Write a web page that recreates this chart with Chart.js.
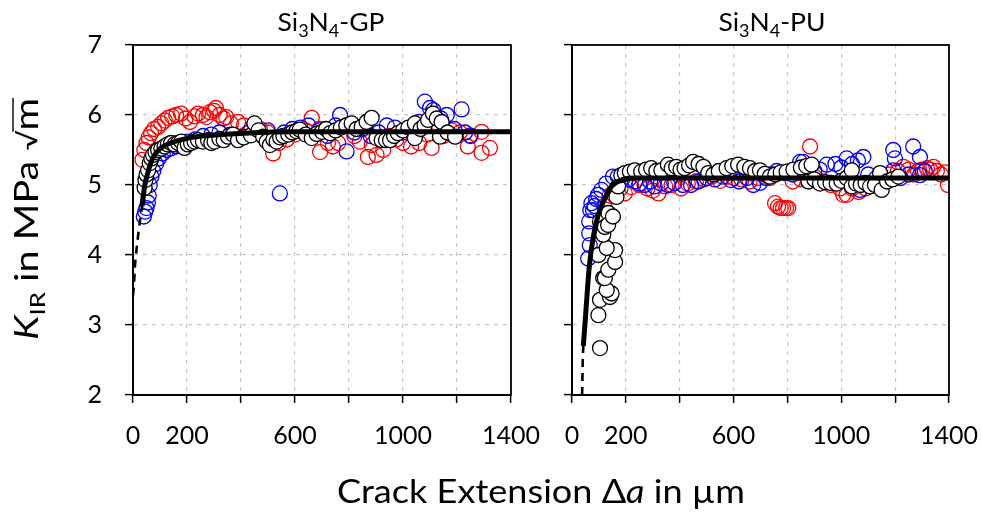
<!DOCTYPE html>
<html><head><meta charset="utf-8">
<script src="https://cdn.jsdelivr.net/npm/chart.js@4/dist/chart.umd.min.js"></script>
<style>
html,body{margin:0;padding:0;background:#fff;}
#wrap{position:relative;width:982px;height:513px;background:#fff;}
canvas{position:absolute;left:0;top:0;}
</style></head><body>
<div id="wrap"><canvas id="c1" width="982" height="513"></canvas><canvas id="c2" width="982" height="513"></canvas></div>
<script>
// ---- tick labels ----
const xTickLabels = [0, 200, 600, 1000, 1400];
const yTickLabels = [2, 3, 4, 5, 6, 7];

// ---- Si3N4-GP (left panel) ----
const gpRed = [[35,5.36],[42,5.5],[50,5.6],[58,5.68],[67,5.74],[78,5.8],[93,5.83],[105,5.88],[118,5.92],[130,5.96],[145,5.98],[160,6.0],[178,6.02],[195,5.95],[211,5.9],[228,5.98],[241,6.02],[259,6.0],[272,5.97],[285,6.04],[300,6.06],[307,6.1],[321,6.0],[335,5.95],[345,5.97],[363,5.88],[389,5.9],[410,5.85],[440,5.82],[470,5.8],[500,5.75],[519,5.45],[540,5.6],[570,5.65],[600,5.72],[640,5.78],[662,5.96],[690,5.8],[693,5.47],[722,5.6],[740,5.55],[760,5.6],[790,5.85],[820,5.7],[840,5.62],[870,5.4],[884,5.57],[902,5.43],[927,5.5],[950,5.7],[975,5.65],[1000,5.6],[1030,5.55],[1060,5.6],[1090,5.72],[1106,5.53],[1150,5.7],[1180,5.78],[1210,5.75],[1240,5.55],[1248,5.71],[1291,5.76],[1291,5.46],[1322,5.53]];
const gpBlue = [[40,4.55],[45,4.62],[50,4.67],[55,4.75],[58,4.85],[62,5.0],[68,5.12],[75,5.2],[85,5.3],[95,5.38],[110,5.45],[125,5.5],[140,5.52],[160,5.55],[180,5.6],[200,5.62],[230,5.65],[260,5.7],[290,5.72],[320,5.75],[360,5.72],[400,5.68],[430,5.75],[460,5.8],[500,5.78],[544,4.88],[560,5.75],[590,5.8],[620,5.82],[650,5.85],[690,5.78],[720,5.7],[750,5.85],[767,6.0],[791,5.48],[820,5.75],[850,5.8],[880,5.7],[910,5.75],[940,5.85],[970,5.82],[1000,5.75],[1030,5.82],[1060,5.9],[1081,6.19],[1100,6.1],[1112,6.07],[1140,5.95],[1162,6.0],[1190,5.8],[1217,6.08],[1230,5.75],[1250,5.7]];
const gpBlack = [[43,4.96],[46,5.07],[50,5.15],[56,5.21],[62,5.31],[68,5.38],[74,5.43],[83,5.47],[93,5.5],[105,5.52],[117,5.55],[129,5.58],[141,5.6],[154,5.58],[167,5.6],[179,5.62],[191,5.53],[203,5.58],[215,5.6],[228,5.62],[241,5.64],[259,5.62],[278,5.64],[290,5.6],[302,5.62],[320,5.66],[336,5.64],[352,5.69],[370,5.72],[389,5.64],[410,5.68],[437,5.71],[450,5.88],[465,5.78],[482,5.69],[495,5.62],[507,5.57],[520,5.65],[532,5.62],[545,5.68],[557,5.7],[575,5.72],[590,5.75],[605,5.77],[618,5.79],[640,5.72],[662,5.67],[680,5.73],[700,5.76],[715,5.8],[730,5.74],[750,5.78],[770,5.82],[790,5.85],[810,5.88],[828,5.8],[847,5.83],[865,5.9],[884,5.96],[902,5.67],[921,5.64],[937,5.64],[952,5.64],[967,5.7],[981,5.74],[1000,5.78],[1020,5.82],[1044,5.88],[1044,5.67],[1065,5.8],[1080,5.85],[1093,5.93],[1111,6.02],[1125,5.95],[1137,5.69],[1143,5.9],[1165,5.75],[1193,5.69]];
const gpFitDashed = [[0,3.42],[4,3.6],[7,3.83],[11,4.0],[20,4.31],[28,4.55],[34,4.7]];
const gpFitSolid = [[34,4.7],[43,4.98],[56,5.19],[74,5.39],[104,5.53],[141,5.6],[204,5.67],[289,5.71],[414,5.74],[600,5.76],[1400,5.76]];

// ---- Si3N4-PU (right panel) ----
const puRed = [[120,4.7],[140,4.85],[160,4.9],[180,4.95],[196,4.88],[220,4.97],[250,5.0],[280,4.95],[300,4.92],[321,4.88],[346,4.98],[370,5.0],[405,4.95],[430,5.02],[460,5.05],[490,5.08],[520,5.12],[550,5.06],[574,5.12],[600,5.1],[630,5.08],[660,5.05],[690,5.1],[710,5.15],[735,5.1],[754,4.74],[765,4.69],[775,4.67],[784,4.67],[795,4.67],[803,4.67],[820,5.05],[850,5.08],[884,5.55],[900,5.12],[930,5.05],[960,5.0],[995,4.95],[1007,4.86],[1020,4.86],[1040,4.95],[1065,4.9],[1090,4.95],[1120,5.02],[1150,5.1],[1180,5.15],[1210,5.2],[1230,5.26],[1250,5.22],[1270,5.15],[1285,5.2],[1300,5.22],[1318,5.24],[1330,5.22],[1342,5.26],[1355,5.2],[1370,5.15],[1385,5.18],[1396,5.0]];
const puBlue = [[60,3.95],[66,4.14],[64,4.31],[64,4.48],[68,4.64],[72,4.74],[78,4.64],[84,4.7],[90,4.8],[97,4.86],[109,4.93],[127,5.02],[152,5.12],[170,5.12],[189,5.1],[210,5.08],[235,5.05],[250,5.02],[270,5.0],[290,5.05],[307,4.98],[330,5.02],[356,5.0],[380,5.03],[412,5.0],[442,5.0],[470,5.05],[500,5.1],[530,5.08],[560,5.12],[590,5.07],[620,5.05],[650,5.1],[673,5.0],[698,5.03],[720,5.1],[740,5.15],[760,5.2],[790,5.17],[820,5.15],[847,5.33],[859,5.33],[880,5.25],[900,5.2],[920,5.22],[946,5.29],[978,5.3],[1000,5.25],[1020,5.38],[1040,5.3],[1062,5.35],[1069,4.93],[1082,5.4],[1100,5.15],[1130,5.1],[1160,5.05],[1193,5.21],[1193,5.5],[1199,5.38],[1220,5.1],[1250,5.15],[1267,5.55],[1292,5.4],[1292,5.14],[1310,5.2]];
const puBlack = [[98,4.0],[104,2.67],[98,3.14],[104,3.36],[141,3.4],[147,3.45],[129,3.5],[116,3.67],[122,3.67],[135,3.79],[160,3.9],[160,4.07],[129,4.1],[116,4.29],[104,4.48],[122,4.4],[135,4.6],[134,4.43],[152,4.55],[165,4.83],[171,4.98],[183,5.14],[196,5.17],[215,5.19],[233,5.21],[257,5.19],[275,5.22],[294,5.24],[313,5.2],[332,5.21],[356,5.29],[370,5.24],[387,5.26],[403,5.22],[418,5.24],[435,5.28],[450,5.33],[470,5.3],[488,5.26],[506,5.17],[525,5.15],[545,5.2],[574,5.24],[595,5.27],[617,5.29],[640,5.26],[661,5.24],[680,5.2],[698,5.21],[716,5.16],[735,5.12],[755,5.15],[775,5.18],[797,5.19],[822,5.22],[850,5.25],[870,5.27],[890,5.29],[878,5.05],[900,5.08],[921,5.02],[940,5.04],[960,5.03],[983,5.02],[1000,5.06],[1020,5.1],[1039,5.21],[1039,4.98],[1055,5.02],[1072,5.0],[1090,5.03],[1107,4.98],[1125,5.0],[1144,5.17],[1150,4.93],[1170,5.05],[1190,5.08],[1212,5.12]];
const puFitDashed = [[37.5,2.0],[38.5,2.2],[40,2.5],[42,2.7]];
const puFitSolid = [[42,2.7],[48,3.0],[55,3.38],[64,3.83],[80,4.28],[98,4.58],[121,4.8],[146,4.98],[183,5.07],[233,5.1],[400,5.1],[1400,5.1]];

const FONT = 'Lato, "DejaVu Sans", sans-serif';
const pts = a => a.map(p => ({x: p[0], y: p[1]}));

function drawRich(ctx, parts, x, y, targetW, rotate) {
  ctx.save();
  let w = 0; const ms = [];
  parts.forEach(p => { ctx.font = p.font; const m = ctx.measureText(p.t).width; ms.push(m); w += m; });
  const sx = targetW ? targetW / w : 1;
  ctx.translate(x, y);
  if (rotate) ctx.rotate(-Math.PI / 2);
  ctx.scale(sx, 1);
  ctx.fillStyle = '#000'; ctx.strokeStyle = '#000';
  ctx.textBaseline = 'alphabetic'; ctx.textAlign = 'left';
  let cx = -w / 2;
  parts.forEach((p, i) => {
    ctx.font = p.font;
    ctx.fillText(p.t, cx, p.dy || 0);
    if (p.over !== undefined) {
      ctx.lineWidth = 1.4; ctx.beginPath();
      ctx.moveTo(cx - 1, p.over); ctx.lineTo(cx + ms[i], p.over); ctx.stroke();
    }
    cx += ms[i];
  });
  ctx.restore();
}

function titleParts(suffix) {
  const big = '25px ' + FONT, small = '17px ' + FONT;
  return [{t:'Si',font:big},{t:'3',font:small,dy:6},{t:'N',font:big},{t:'4',font:small,dy:6},{t:suffix,font:big}];
}

const framePlugin = {
  id: 'frame',
  afterDraw(chart) {
    const {ctx, chartArea: a} = chart;
    ctx.save(); ctx.strokeStyle = '#000'; ctx.lineWidth = 1.8;
    ctx.strokeRect(a.left, a.top, a.right - a.left, a.bottom - a.top);
    ctx.restore();
  }
};

function makeChart(id, d, cfg) {
  return new Chart(document.getElementById(id), {
    type: 'scatter',
    data: { datasets: [
      {type:'line', data: pts(d.solid), borderColor:'#000', borderWidth:5, pointRadius:0, cubicInterpolationMode:'monotone', fill:false, order:0},
      {type:'line', data: pts(d.dashed), borderColor:'#000', borderWidth:2.6, borderDash:[8,6], pointRadius:0, cubicInterpolationMode:'monotone', fill:false, order:1},
      {data: pts(d.black), borderColor:'#000', backgroundColor:'#fff', pointRadius:7.5, borderWidth:1.3, order:2},
      {data: pts(d.blue), borderColor:'#0000ff', backgroundColor:'rgba(0,0,0,0)', pointRadius:7.5, borderWidth:1.3, order:3},
      {data: pts(d.red), borderColor:'#ff0000', backgroundColor:'rgba(0,0,0,0)', pointRadius:7.5, borderWidth:1.3, order:4}
    ]},
    options: {
      responsive:false, animation:false, events:[],
      layout:{padding:{left:0, right:cfg.padRight, top:45, bottom:0}},
      plugins:{legend:{display:false}, tooltip:{enabled:false}, title:{display:false}},
      scales: {
        x: {
          type:'linear', min:0, max:1400,
          ticks:{stepSize:200, autoSkip:false, maxRotation:0, padding:18, color:'#000', font:{family:FONT, size:25},
            callback: v => xTickLabels.includes(v) ? String(v) : ''},
          grid:{color: c => (c.tick && c.tick.value > 0 && c.tick.value < 1400) ? '#c8c8c8' : 'rgba(0,0,0,0)', lineWidth:1.2, drawTicks:true, tickLength:8, tickColor:'#000', tickWidth:1.5},
          border:{display:true, color:'#000', width:2, dash:[4,5]},
          afterFit: s => { s.height = 118; s.paddingLeft = 0; s.paddingRight = 0; }
        },
        y: {
          type:'linear', min:2, max:7,
          ticks:{stepSize:1, padding:23, color:'#000', font:{family:FONT, size:25},
            callback: v => (cfg.yLabels && yTickLabels.includes(v)) ? String(v) : ''},
          grid:{color: c => (c.tick && c.tick.value > 2 && c.tick.value < 7) ? '#c8c8c8' : 'rgba(0,0,0,0)', lineWidth:1.2, drawTicks:true, tickLength:8, tickColor:'#000', tickWidth:1.5},
          border:{display:true, color:'#000', width:2, dash:[4,5]},
          afterFit: s => { s.width = cfg.yWidth; s.paddingTop = 0; s.paddingBottom = 0; }
        }
      }
    },
    plugins: [framePlugin, {id:'texts', afterDraw(chart){ cfg.texts(chart.ctx); }}]
  });
}

makeChart('c1', {red:gpRed, blue:gpBlue, black:gpBlack, dashed:gpFitDashed, solid:gpFitSolid}, {
  padRight: 982 - 511, yWidth: 133, yLabels: true,
  texts(ctx) {
    drawRich(ctx, titleParts('-GP'), 331, 31, 107, false);
    const big = '32px ' + FONT;
    drawRich(ctx, [
      {t:'K', font:'italic ' + big},
      {t:'IR', font:'21px ' + FONT, dy:7},
      {t:' in MPa ', font:big},
      {t:'\u221A', font:'26px ' + FONT, dy:-1},
      {t:'m', font:big, over:-25}
    ], 38, 219, 242, true);
  }
});
makeChart('c2', {red:puRed, blue:puBlue, black:puBlack, dashed:puFitDashed, solid:puFitSolid}, {
  padRight: 982 - 949, yWidth: 572, yLabels: false,
  texts(ctx) {
    drawRich(ctx, titleParts('-PU'), 772, 31, 107, false);
    const big = '32px ' + FONT;
    drawRich(ctx, [
      {t:'Crack Extension \u0394', font:big},
      {t:'a', font:'italic ' + big},
      {t:' in \u00B5m', font:big}
    ], 541, 503, 408, false);
  }
});
</script>
</body></html>
